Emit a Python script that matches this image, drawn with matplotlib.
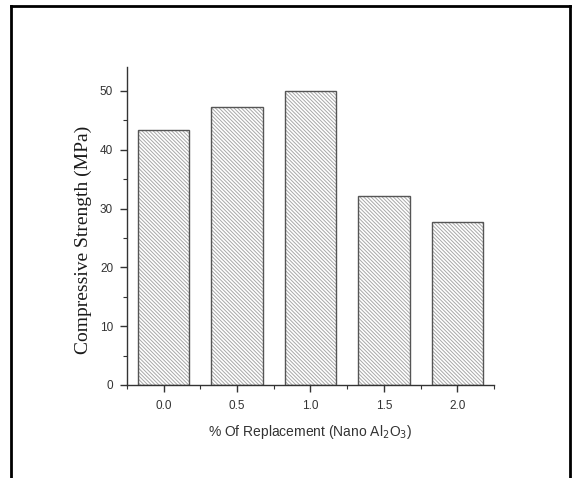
import matplotlib
matplotlib.use("Agg")
import matplotlib.pyplot as plt
from matplotlib.ticker import MultipleLocator

# nano Al2O3 replacement (%) and compressive strength (MPa)
replacement = [0.0, 0.5, 1.0, 1.5, 2.0]
strength = [43.3, 47.3, 50.0, 32.1, 27.7]
x_ticklabels = ["0.0", "0.5", "1.0", "1.5", "2.0"]

plt.rcParams["hatch.linewidth"] = 0.7

fig = plt.figure(figsize=(5.76, 4.78), dpi=100)
ax = fig.add_axes([0.2205, 0.1946, 0.6371, 0.6644])

# light hatching first, then the darker outline on top
ax.bar(replacement, strength, width=0.35, facecolor="white",
       edgecolor="#a8a8a8", linewidth=0, hatch="\\" * 9)
ax.bar(replacement, strength, width=0.35, fill=False,
       edgecolor="#555555", linewidth=1.0)

ax.set_xlim(-0.25, 2.25)
ax.set_ylim(0, 54)
ax.set_xticks(replacement)
ax.set_xticklabels(x_ticklabels)
ax.xaxis.set_minor_locator(MultipleLocator(0.25))
ax.yaxis.set_major_locator(MultipleLocator(10))
ax.yaxis.set_minor_locator(MultipleLocator(5))

for side in ("top", "right"):
    ax.spines[side].set_visible(False)
for side in ("left", "bottom"):
    ax.spines[side].set_color("#333333")
    ax.spines[side].set_linewidth(1.0)

ax.tick_params(which="major", direction="out", length=5, width=1.0,
               color="#333333", labelsize=8.5, labelcolor="#333333", pad=5)
ax.tick_params(axis="x", which="major", pad=6)
ax.tick_params(which="minor", direction="out", length=3, width=0.8,
               color="#333333")
for lab in ax.get_xticklabels() + ax.get_yticklabels():
    lab.set_family("Liberation Sans")

ax.set_xlabel("% Of Replacement (Nano Al$_2$O$_3$)", family="Liberation Sans",
              fontsize=10, color="#333333", labelpad=8)
ax.set_ylabel("Compressive Strength (MPa)", family="Liberation Serif",
              fontsize=14, color="#1a1a1a")
ax.yaxis.set_label_coords(-0.095, 0.456)

# black frame around the whole picture (bottom edge is cut off)
fig.add_artist(plt.Line2D([0.019, 0.019], [0.0, 0.987], transform=fig.transFigure,
                          color="black", linewidth=2))
fig.add_artist(plt.Line2D([0.019, 0.99], [0.987, 0.987], transform=fig.transFigure,
                          color="black", linewidth=2))
fig.add_artist(plt.Line2D([0.99, 0.99], [0.0, 0.987], transform=fig.transFigure,
                          color="black", linewidth=2))

fig.savefig("out.png", dpi=100)
